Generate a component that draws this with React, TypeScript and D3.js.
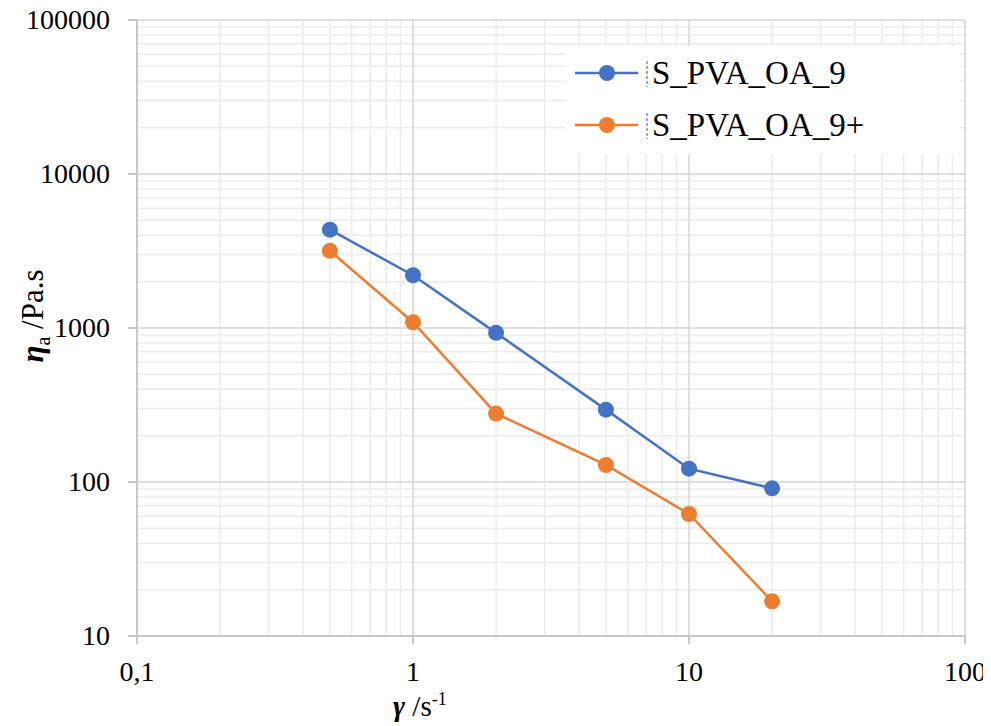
import React from 'react';
import * as d3 from 'd3';

const shearRates = [0.5, 1, 2, 5, 10, 20];
const viscosity9 = [4350, 2200, 930, 295, 122, 91];
const viscosity9plus = [3170, 1090, 278, 129, 62, 16.8];
const seriesNames = ['S_PVA_OA_9', 'S_PVA_OA_9+'];
const seriesColors = ['#4472C4', '#ED7D31'];
const xTicks = [0.1, 1, 10, 100];
const xTickLabels = ['0,1', '1', '10', '100'];
const yTicks = [10, 100, 1000, 10000, 100000];

// page body keeps its 8px margin, so the drawing is shifted back inside the svg
const OFF = 8;
const W = 991 - OFF;
const H = 726 - OFF;
const m = { left: 137, right: 965, top: 20, bottom: 636 };
const FONT = 'Liberation Serif, Tinos, Times New Roman, serif';

const App = () => {
  const x = d3.scaleLog().domain([0.1, 100]).range([m.left, m.right]);
  const y = d3.scaleLog().domain([10, 100000]).range([m.bottom, m.top]);

  // minor grid values for each decade
  const minorX: number[] = [];
  for (let d = 0.1; d < 100; d *= 10) for (let k = 2; k <= 9; k++) minorX.push(d * k);
  const minorY: number[] = [];
  for (let d = 10; d < 100000; d *= 10) for (let k = 2; k <= 9; k++) minorY.push(d * k);

  const line = d3
    .line<number>()
    .x((_, i) => x(shearRates[i]))
    .y((v) => y(v));

  const series = [viscosity9, viscosity9plus];

  return (
    <svg width={W} height={H} fontFamily={FONT} style={{ display: 'block', fontFamily: FONT }}>
      <g transform={`translate(${-OFF},${-OFF})`}>
        <rect width={991} height={726} fill="#fff" />
        {/* grid */}
        {minorX.map((v) => (
          <line key={'mx' + v} x1={x(v)} x2={x(v)} y1={m.top} y2={m.bottom} stroke="#ececec" strokeWidth={1.5} />
        ))}
        {minorY.map((v) => (
          <line key={'my' + v} x1={m.left} x2={m.right} y1={y(v)} y2={y(v)} stroke="#ececec" strokeWidth={1.5} />
        ))}
        {xTicks.map((v) => (
          <line key={'gx' + v} x1={x(v)} x2={x(v)} y1={m.top} y2={m.bottom} stroke="#d6d6d6" strokeWidth={1.5} />
        ))}
        {yTicks.map((v) => (
          <line key={'gy' + v} x1={m.left} x2={m.right} y1={y(v)} y2={y(v)} stroke="#d6d6d6" strokeWidth={1.5} />
        ))}
        {/* axes */}
        <line x1={m.left} x2={m.left} y1={m.top} y2={m.bottom} stroke="#c8c8c8" strokeWidth={2} />
        <line x1={m.left} x2={m.right} y1={m.bottom} y2={m.bottom} stroke="#c8c8c8" strokeWidth={2} />
        {yTicks.map((v) => (
          <g key={'ty' + v}>
            <line x1={m.left - 9} x2={m.left} y1={y(v)} y2={y(v)} stroke="#c8c8c8" strokeWidth={2} />
            <text x={110} y={y(v) + 9} textAnchor="end" fontSize={28} fill="#000" fontFamily={FONT}>
              {String(v)}
            </text>
          </g>
        ))}
        {xTicks.map((v, i) => (
          <g key={'tx' + v}>
            <line x1={x(v)} x2={x(v)} y1={m.bottom} y2={m.bottom + 8} stroke="#c8c8c8" strokeWidth={2} />
            <text x={x(v)} y={681} textAnchor="middle" fontSize={28} fill="#000" fontFamily={FONT}>
              {xTickLabels[i]}
            </text>
          </g>
        ))}
        {/* series */}
        {series.map((s, si) => (
          <g key={'s' + si}>
            <path d={line(s) || ''} fill="none" stroke={seriesColors[si]} strokeWidth={2.5} />
            {s.map((v, i) => (
              <circle key={i} cx={x(shearRates[i])} cy={y(v)} r={8} fill={seriesColors[si]} />
            ))}
          </g>
        ))}
        {/* legend */}
        <rect x={566} y={46} width={394} height={108} fill="#fff" />
        {seriesNames.map((name, i) => {
          const ly = 73 + i * 52;
          return (
            <g key={name}>
              <line x1={575} x2={638} y1={ly} y2={ly} stroke={seriesColors[i]} strokeWidth={2.5} />
              <circle cx={607} cy={ly} r={8} fill={seriesColors[i]} />
              <line x1={647} x2={647} y1={ly - 12} y2={ly + 14} stroke="#555" strokeWidth={1} strokeDasharray="3,2" />
              <text x={652} y={ly + 11} fontSize={33} fill="#000" fontFamily={FONT}>
                {name}
              </text>
            </g>
          );
        })}
        {/* axis titles */}
        <text x={393} y={716} fontSize={29} fill="#000" fontFamily={FONT}>
          <tspan fontWeight="bold" fontStyle="italic">γ</tspan>
          <tspan> /s</tspan>
          <tspan dy={-11} fontSize={18}>-1</tspan>
        </text>
        <text transform="translate(43, 316) rotate(-90)" textAnchor="middle" fontSize={31} fill="#000" fontFamily={FONT}>
          <tspan fontWeight="bold" fontStyle="italic">η</tspan>
          <tspan dy={7} fontSize={20}>a</tspan>
          <tspan dy={-7}> /Pa.s</tspan>
        </text>
      </g>
    </svg>
  );
};

export default App;
